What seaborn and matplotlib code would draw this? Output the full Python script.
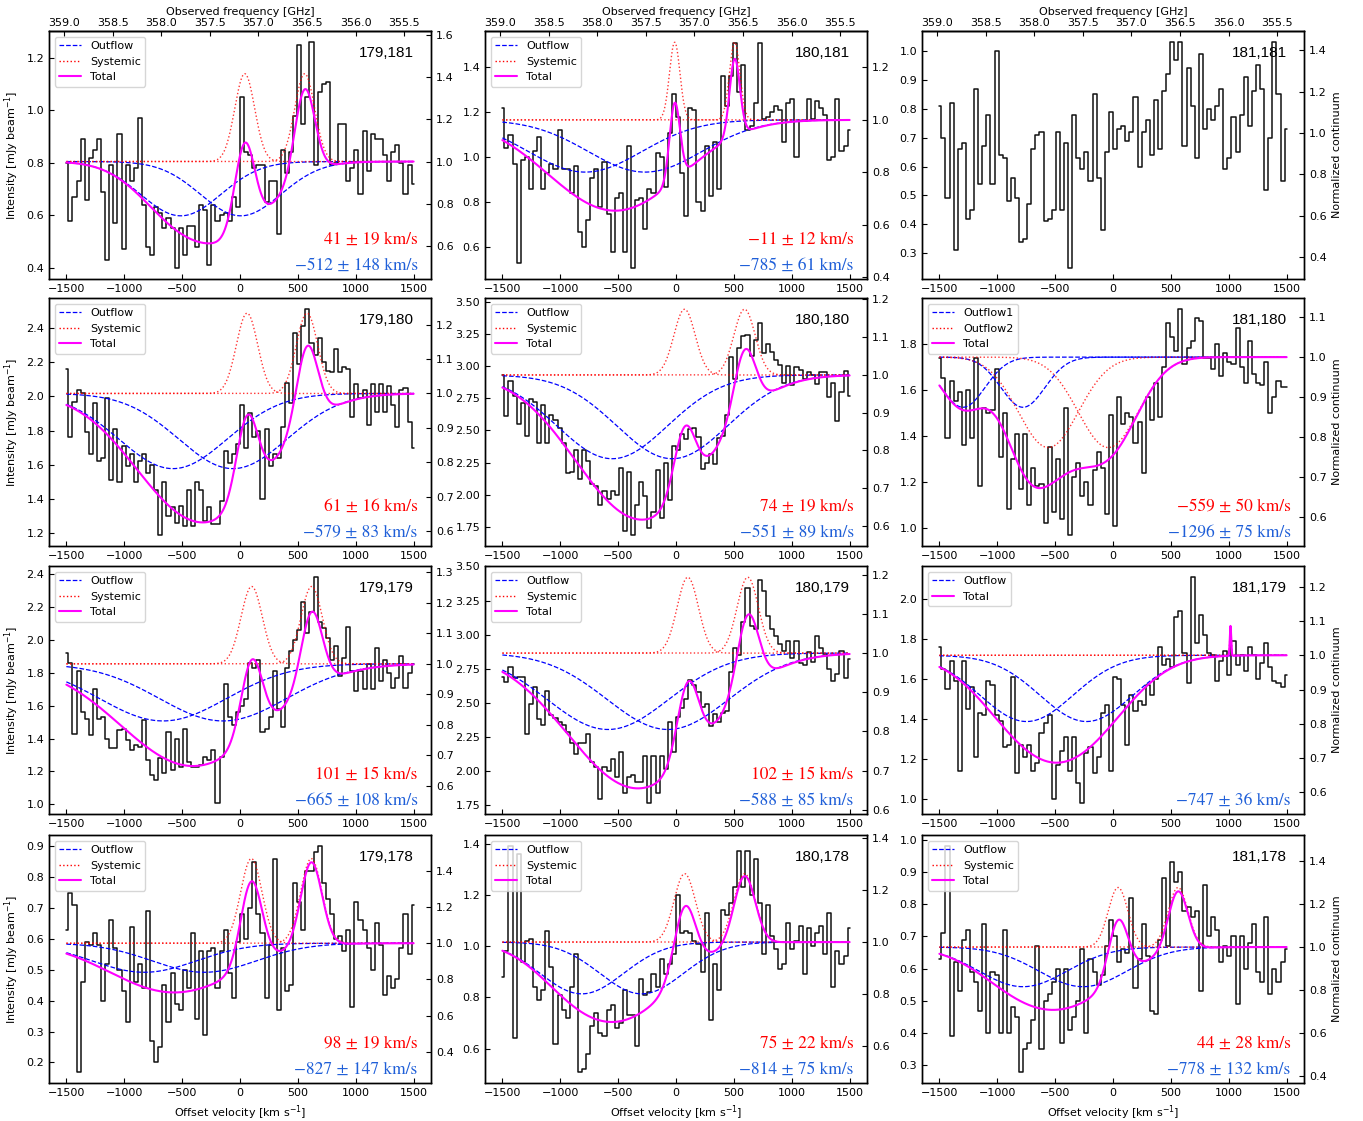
import numpy as np
import matplotlib
matplotlib.use("Agg")
import matplotlib.pyplot as plt
import seaborn as sns
from matplotlib.ticker import MultipleLocator
from matplotlib.lines import Line2D

sns.set_style("ticks")
plt.rcParams["font.family"] = ["DejaVu Sans"]
plt.rcParams["font.size"] = 8
plt.rcParams["xtick.direction"] = "in"
plt.rcParams["ytick.direction"] = "in"
plt.rcParams["axes.linewidth"] = 1.0
for key in ["text.color", "axes.labelcolor", "xtick.color", "ytick.color", "axes.edgecolor"]:
    plt.rcParams[key] = "black"

C_KMS = 299792.458
F_REST = 357.19      # GHz at zero offset velocity
LINE_SEP = 518.0     # km/s between the two transitions of each pair

panel_names = ["179,181", "180,181", "181,181",
               "179,180", "180,180", "181,180",
               "179,179", "180,179", "181,179",
               "179,178", "180,178", "181,178"]

# ---- observed spectra (mJy/beam), channels evenly spaced from -1500 to 1500 km/s ----
spec_179_181 = [0.80, 0.58, 0.67, 0.73, 0.89, 0.66, 0.82, 0.85, 0.89, 0.69,
                0.43, 0.79, 0.57, 0.91, 0.47, 0.79, 0.73, 0.78, 0.97, 0.64,
                0.48, 0.45, 0.63, 0.61, 0.55, 0.59, 0.55, 0.40, 0.55, 0.45,
                0.56, 0.56, 0.48, 0.64, 0.62, 0.41, 0.64, 0.58, 0.60, 0.61,
                0.58, 0.67, 0.63, 1.05, 0.84, 0.83, 0.78, 0.79, 0.79, 0.65,
                0.73, 0.73, 0.53, 0.85, 0.76, 0.84, 0.98, 1.25, 0.95, 1.05,
                1.26, 0.79, 1.07, 1.10, 1.11, 0.79, 0.80, 0.95, 0.95, 0.73,
                0.78, 0.85, 0.68, 0.92, 0.77, 0.91, 0.89, 0.89, 0.83, 0.73,
                0.84, 0.87, 0.80, 0.68, 0.79, 0.72]
spec_180_181 = [1.22, 1.04, 1.10, 0.97, 0.53, 0.99, 1.00, 0.86, 1.03, 1.09,
                0.86, 0.93, 0.97, 0.95, 1.12, 0.95, 0.95, 0.84, 0.96, 0.67,
                0.60, 0.72, 0.91, 0.95, 0.78, 0.98, 0.75, 0.58, 0.82, 0.84,
                0.58, 1.05, 0.51, 0.81, 0.82, 0.68, 0.86, 0.84, 1.02, 1.00,
                0.87, 1.11, 1.28, 1.18, 0.93, 0.74, 1.22, 1.21, 0.80, 0.76,
                1.05, 0.83, 1.07, 0.86, 1.36, 1.23, 1.36, 1.51, 1.29, 1.41,
                1.12, 1.14, 1.24, 1.51, 1.17, 1.18, 1.20, 1.23, 1.21, 1.07,
                1.24, 1.26, 1.00, 1.16, 1.16, 1.26, 1.17, 1.25, 1.22, 1.19,
                0.99, 1.00, 1.26, 1.03, 1.05, 1.12]
spec_181_181 = [0.81, 0.70, 0.49, 0.82, 0.31, 0.66, 0.68, 0.42, 0.45, 0.87,
                0.54, 0.67, 0.78, 0.54, 1.00, 0.64, 0.63, 0.48, 0.56, 0.49,
                0.34, 0.35, 0.47, 0.66, 0.71, 0.72, 0.41, 0.42, 0.45, 0.72,
                0.45, 0.68, 0.25, 0.78, 0.63, 0.59, 0.65, 0.55, 0.85, 0.56,
                0.38, 0.65, 0.79, 0.66, 0.73, 0.74, 0.69, 0.72, 0.84, 0.60,
                0.72, 0.76, 0.64, 0.83, 0.66, 0.86, 0.92, 1.03, 0.97, 1.03,
                0.67, 0.94, 0.81, 0.63, 0.99, 0.73, 0.80, 0.76, 0.81, 0.87,
                0.59, 0.63, 0.77, 0.65, 0.78, 0.91, 0.74, 0.86, 0.95, 0.87,
                0.52, 0.70, 1.03, 0.85, 0.55, 0.73]
spec_179_180 = [2.16, 1.76, 1.97, 2.04, 2.02, 1.79, 1.66, 1.96, 1.62, 1.64,
                1.99, 1.51, 1.81, 1.50, 1.71, 1.59, 1.66, 1.50, 1.62, 1.66,
                1.55, 1.60, 1.45, 1.19, 1.50, 1.30, 1.35, 1.26, 1.36, 1.24,
                1.45, 1.24, 1.50, 1.45, 1.27, 1.35, 1.25, 1.25, 1.39, 1.68,
                1.61, 1.66, 1.72, 1.95, 1.70, 1.90, 1.76, 1.80, 1.40, 1.81,
                1.59, 1.66, 1.64, 1.82, 2.08, 1.96, 2.37, 2.19, 2.41, 2.51,
                2.31, 2.24, 2.34, 2.20, 2.15, 2.14, 2.28, 2.14, 2.17, 2.16,
                1.88, 2.07, 1.99, 2.04, 1.83, 2.07, 1.91, 2.07, 1.91, 2.06,
                1.95, 1.82, 2.04, 2.05, 1.85, 1.70]
spec_180_180 = [2.93, 2.61, 2.88, 2.77, 2.55, 2.71, 2.46, 2.74, 2.72, 2.40,
                2.70, 2.40, 2.62, 2.58, 2.52, 2.40, 2.17, 2.18, 2.35, 2.12,
                2.35, 2.26, 2.08, 2.07, 1.92, 2.03, 1.97, 2.03, 2.00, 2.21,
                1.72, 2.18, 1.69, 1.92, 2.10, 1.99, 1.74, 1.87, 2.19, 1.82,
                2.25, 1.96, 2.38, 2.35, 2.47, 2.43, 2.51, 2.52, 2.45, 2.20,
                2.25, 2.32, 2.24, 2.44, 2.46, 2.62, 3.07, 2.90, 3.14, 3.23,
                3.24, 3.08, 3.20, 3.33, 3.10, 3.17, 3.11, 3.05, 3.01, 2.87,
                3.00, 2.85, 2.99, 2.97, 2.90, 2.95, 2.93, 2.86, 2.95, 2.95,
                2.76, 2.87, 2.57, 2.80, 2.96, 2.77]
spec_181_180 = [1.74, 1.65, 1.39, 1.64, 1.55, 1.59, 1.36, 1.60, 1.39, 1.74,
                1.18, 1.52, 1.50, 1.51, 1.69, 1.31, 1.50, 1.08, 1.30, 1.41,
                1.17, 1.41, 1.10, 1.26, 1.18, 1.19, 1.02, 1.35, 1.07, 1.30,
                1.04, 1.52, 0.97, 1.22, 1.28, 1.14, 1.20, 1.10, 1.25, 1.33,
                1.26, 1.06, 1.49, 1.01, 1.57, 1.45, 1.50, 1.48, 1.37, 1.46,
                1.24, 1.57, 1.47, 1.63, 1.48, 1.70, 1.89, 1.83, 1.77, 1.95,
                1.71, 1.78, 1.81, 1.91, 1.90, 1.74, 1.74, 1.69, 1.80, 1.66,
                1.76, 1.72, 1.71, 1.87, 1.70, 1.63, 1.81, 1.67, 1.63, 1.62,
                1.72, 1.50, 1.57, 1.64, 1.61, 1.61]
spec_179_179 = [1.92, 1.86, 1.43, 1.81, 1.56, 1.52, 1.42, 1.70, 1.52, 1.53,
                1.40, 1.34, 1.34, 1.45, 1.46, 1.39, 1.33, 1.36, 1.35, 1.51,
                1.27, 1.18, 1.15, 1.28, 1.19, 1.44, 1.21, 1.40, 1.23, 1.46,
                1.26, 1.23, 1.23, 1.24, 1.29, 1.27, 1.33, 1.01, 1.29, 1.73,
                1.53, 1.48, 1.56, 1.60, 1.64, 1.86, 1.83, 1.88, 1.44, 1.46,
                1.53, 1.81, 1.58, 1.47, 1.83, 1.93, 2.00, 2.06, 2.23, 2.04,
                2.17, 2.38, 2.11, 2.07, 2.01, 1.88, 1.96, 1.78, 1.89, 2.08,
                1.81, 1.69, 1.81, 1.70, 1.85, 1.70, 1.95, 1.75, 1.88, 1.80,
                1.71, 1.77, 1.90, 1.71, 1.80, 1.85]
spec_180_179 = [2.69, 2.65, 2.76, 2.68, 2.69, 2.69, 2.27, 2.49, 2.62, 2.38,
                2.34, 2.59, 2.41, 2.39, 2.36, 2.34, 2.29, 2.21, 2.13, 2.21,
                2.21, 2.27, 2.07, 2.03, 1.80, 2.03, 2.00, 2.09, 1.96, 2.14,
                1.84, 1.96, 1.97, 1.92, 1.92, 2.11, 1.77, 2.11, 1.84, 2.11,
                2.02, 2.36, 2.14, 2.40, 2.46, 2.53, 2.67, 2.63, 2.58, 2.47,
                2.49, 2.33, 2.42, 2.36, 2.43, 2.44, 2.73, 2.90, 2.85, 3.09,
                3.34, 3.06, 3.04, 3.40, 3.32, 3.14, 3.04, 2.99, 2.93, 2.88,
                2.95, 2.83, 2.95, 2.79, 2.78, 2.87, 2.80, 2.99, 2.90, 2.86,
                2.75, 2.66, 2.71, 2.88, 2.68, 2.82]
spec_181_179 = [1.76, 1.65, 1.55, 1.69, 1.59, 1.14, 1.69, 1.45, 1.56, 1.21,
                1.43, 1.42, 1.59, 1.57, 1.42, 1.39, 1.26, 1.27, 1.61, 1.13,
                1.27, 1.21, 1.27, 1.14, 1.18, 1.33, 1.38, 1.42, 1.00, 1.17,
                1.24, 1.31, 1.14, 1.31, 1.08, 0.98, 1.23, 1.26, 1.13, 1.21,
                1.43, 1.47, 1.14, 1.61, 1.60, 1.47, 1.27, 1.52, 1.44, 1.49,
                1.47, 1.57, 1.52, 1.60, 1.76, 1.67, 1.70, 1.66, 1.91, 1.94,
                1.73, 1.58, 2.11, 1.78, 1.92, 1.82, 1.73, 1.72, 1.59, 1.69,
                1.74, 1.62, 1.79, 1.67, 1.72, 1.64, 1.76, 1.72, 1.60, 1.68,
                1.78, 1.66, 1.59, 1.58, 1.56, 1.62]
spec_179_178 = [0.63, 0.75, 0.71, 0.17, 0.46, 0.59, 0.58, 0.62, 0.58, 0.40,
                0.52, 0.66, 0.57, 0.50, 0.43, 0.33, 0.64, 0.46, 0.52, 0.44,
                0.69, 0.27, 0.20, 0.25, 0.45, 0.33, 0.49, 0.39, 0.37, 0.50,
                0.44, 0.62, 0.34, 0.56, 0.29, 0.56, 0.57, 0.44, 0.56, 0.63,
                0.49, 0.41, 0.59, 0.68, 0.60, 0.70, 0.85, 0.68, 0.62, 0.41,
                0.58, 0.86, 0.37, 0.57, 0.43, 0.45, 0.78, 0.72, 0.63, 0.82,
                0.82, 0.88, 0.90, 0.78, 0.73, 0.68, 0.60, 0.61, 0.56, 0.63,
                0.38, 0.72, 0.66, 0.63, 0.57, 0.50, 0.65, 0.58, 0.42, 0.48,
                0.44, 0.47, 0.57, 0.68, 0.55, 0.71]
spec_180_178 = [0.88, 0.98, 1.39, 0.64, 1.36, 0.94, 1.02, 1.03, 0.84, 0.79,
                0.83, 1.06, 0.92, 0.62, 0.81, 0.75, 0.72, 0.84, 0.97, 0.51,
                0.52, 0.58, 0.69, 0.74, 0.66, 0.65, 0.75, 0.77, 0.68, 0.70,
                0.83, 0.73, 0.73, 0.61, 0.87, 0.81, 0.82, 0.89, 0.84, 0.95,
                0.89, 0.93, 0.97, 1.20, 1.05, 1.06, 1.05, 1.02, 1.01, 0.90,
                1.13, 0.71, 0.93, 0.83, 1.14, 1.12, 1.17, 1.23, 1.37, 1.23,
                1.37, 1.20, 1.34, 1.17, 0.97, 1.16, 1.04, 0.99, 0.91, 0.93,
                1.09, 0.99, 1.02, 1.08, 0.89, 1.07, 1.00, 1.05, 1.08, 0.97,
                1.13, 0.84, 0.98, 0.93, 0.96, 1.07]
spec_181_178 = [0.63, 0.71, 0.98, 0.39, 0.62, 0.53, 0.69, 0.72, 0.59, 0.56,
                0.47, 0.74, 0.40, 0.59, 0.58, 0.40, 0.72, 0.40, 0.48, 0.45,
                0.28, 0.35, 0.37, 0.44, 0.67, 0.35, 0.50, 0.52, 0.56, 0.60,
                0.37, 0.60, 0.41, 0.45, 0.50, 0.66, 0.40, 0.63, 0.59, 0.55,
                0.58, 0.67, 0.75, 0.70, 0.62, 0.66, 0.65, 0.82, 0.54, 0.63,
                0.74, 0.64, 0.47, 0.46, 0.69, 0.88, 0.67, 0.93, 0.87, 0.90,
                0.78, 0.79, 0.76, 0.78, 0.53, 0.86, 0.70, 0.76, 0.72, 0.62,
                0.67, 0.64, 0.70, 0.49, 0.70, 0.60, 0.68, 0.74, 0.59, 0.56,
                0.76, 0.52, 0.60, 0.56, 0.62, 0.66]

spectra = [spec_179_181, spec_180_181, spec_181_181,
           spec_179_180, spec_180_180, spec_181_180,
           spec_179_179, spec_180_179, spec_181_179,
           spec_179_178, spec_180_178, spec_181_178]

# ---- fit parameters (nan = no fit) ----
continuum   = [0.805, 1.167, 0.716, 2.017, 2.93, 1.742, 1.854, 2.865, 1.719, 0.586, 1.016, 0.667]
blue_center = [-512, -785, np.nan, -579, -551, -1296, -665, -588, -747, -827, -814, -778]
blue_depth  = [0.207, 0.232, np.nan, 0.44, 0.65, 0.218, 0.347, 0.559, 0.332, 0.094, 0.202, 0.123]
blue_sigma  = [346, 490, np.nan, 468, 479, 190, 550, 525, 400, 450, 360, 380]
red_center  = [41, -11, np.nan, 61, 74, -559, 101, 102, 1015, 98, 75, 44]
red_amp     = [0.335, 0.345, np.nan, 0.47, 0.51, -0.393, 0.47, 0.555, 0.15, 0.274, 0.267, 0.185]
red_sigma   = [86, 45, np.nan, 92, 92, 259, 92, 92, 6, 92, 92, 85]

red_label  = ["41 ± 19", "−11 ± 12", None, "61 ± 16", "74 ± 19", "−559 ± 50",
              "101 ± 15", "102 ± 15", None, "98 ± 19", "75 ± 22", "44 ± 28"]
blue_label = ["−512 ± 148", "−785 ± 61", None, "−579 ± 83", "−551 ± 89", "−1296 ± 75",
              "−665 ± 108", "−588 ± 85", "−747 ± 36", "−827 ± 147", "−814 ± 75", "−778 ± 132"]

legend_names = [("Outflow", "Systemic", "Total")] * 12
legend_names[5] = ("Outflow1", "Outflow2", "Total")
legend_names[8] = ("Outflow", None, "Total")

left_step  = [0.2, 0.2, 0.1, 0.2, 0.25, 0.2, 0.2, 0.25, 0.2, 0.1, 0.2, 0.1]
right_step = [0.2, 0.2, 0.2, 0.1, 0.1, 0.1, 0.1, 0.1, 0.1, 0.2, 0.2, 0.2]

v_model = np.linspace(-1500, 1500, 3001)


def vel_to_freq(v):
    return F_REST * (1 - np.asarray(v) / C_KMS)


def freq_to_vel(f):
    return C_KMS * (1 - np.asarray(f) / F_REST)


def pair(cont, center, amp, sigma):
    return [cont + amp * np.exp(-0.5 * ((v_model - center - k * LINE_SEP) / sigma) ** 2)
            for k in range(2)]


W, H = 1363, 1121
fig = plt.figure(figsize=(W / 100, H / 100), dpi=100)
lefts = [49, 485, 922]
tops = [31, 298, 566, 835]
aw, ah = 382, 248

BLUE_TXT = "#1f5fd8"

for idx, name in enumerate(panel_names):
    r, c = divmod(idx, 3)
    ax = fig.add_axes([lefts[c] / W, 1 - (tops[r] + ah) / H, aw / W, ah / H])
    spec = np.array(spectra[idx])
    vel = np.linspace(-1500, 1500, len(spec))
    cont = continuum[idx]

    sns.lineplot(x=vel, y=spec, ax=ax, color="#111111", lw=1.1,
                 drawstyle="steps-mid", estimator=None, sort=False)

    if not np.isnan(blue_center[idx]):
        blue = pair(cont, blue_center[idx], -blue_depth[idx], blue_sigma[idx])
        red = pair(cont, red_center[idx], red_amp[idx], red_sigma[idx])
        total = cont + sum(b - cont for b in blue) + sum(q - cont for q in red)
        for b in blue:
            sns.lineplot(x=v_model, y=b, ax=ax, color="blue", linestyle="--", lw=0.9,
                         estimator=None, sort=False)
        for q in red:
            sns.lineplot(x=v_model, y=q, ax=ax, color="red", linestyle=":", lw=1.0,
                         alpha=0.8, estimator=None, sort=False)
        sns.lineplot(x=v_model, y=total, ax=ax, color="magenta", lw=1.5,
                     estimator=None, sort=False)

        names = legend_names[idx]
        handles, labels = [], []
        handles.append(Line2D([], [], color="blue", ls="--", lw=0.9)); labels.append(names[0])
        if names[1]:
            handles.append(Line2D([], [], color="red", ls=":", lw=1.0)); labels.append(names[1])
        handles.append(Line2D([], [], color="magenta", lw=1.5)); labels.append(names[2])
        ax.legend(handles, labels, loc="upper left", fontsize=8)

        if red_label[idx]:
            ax.text(0.965, 0.14, red_label[idx] + " km/s", transform=ax.transAxes,
                    ha="right", va="baseline", color="red", fontsize=12.5,
                    family="STIXGeneral")
        ax.text(0.965, 0.035, blue_label[idx] + " km/s", transform=ax.transAxes,
                ha="right", va="baseline", color=BLUE_TXT, fontsize=12.5,
                family="STIXGeneral")

    ax.text(0.955, 0.91, name, transform=ax.transAxes, ha="right", va="center",
            fontsize=11, family=["Liberation Sans", "DejaVu Sans"])

    ax.set_xlim(-1650, 1650)
    ax.xaxis.set_major_locator(MultipleLocator(500))
    ax.yaxis.set_major_locator(MultipleLocator(left_step[idx]))
    ax.tick_params(direction="in", labelsize=8, length=3.5)
    ax.set_xlabel("")
    ax.set_ylabel("")

    ax2 = ax.twinx()
    lo, hi = ax.get_ylim()
    ax2.set_ylim(lo / cont, hi / cont)
    ax2.yaxis.set_major_locator(MultipleLocator(right_step[idx]))
    ax2.tick_params(direction="in", labelsize=8, length=3.5)

    if r == 0:
        sec = ax.secondary_xaxis("top", functions=(vel_to_freq, freq_to_vel))
        sec.xaxis.set_major_locator(MultipleLocator(0.5))
        sec.tick_params(direction="in", labelsize=8, length=3.5, pad=2)
        sec.set_xlabel("Observed frequency [GHz]", fontsize=8, labelpad=2)
    if c == 0:
        ax.set_ylabel("Intensity [mJy beam$^{-1}$]", fontsize=8)
    if c == 2:
        ax2.set_ylabel("Normalized continuum", fontsize=8)
    if r == 3:
        ax.set_xlabel("Offset velocity [km s$^{-1}$]", fontsize=8)

fig.savefig("out.png", dpi=100)
